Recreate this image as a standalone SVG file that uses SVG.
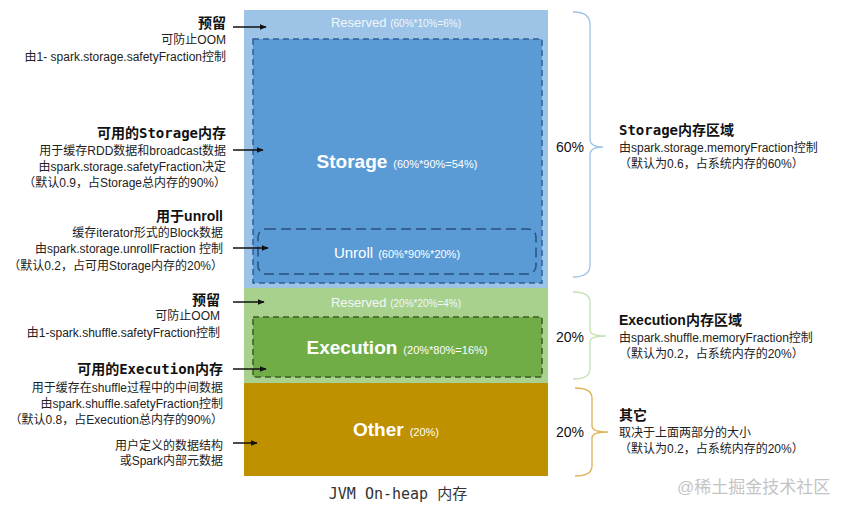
<svg xmlns="http://www.w3.org/2000/svg" width="851" height="512" viewBox="0 0 851 512">
<defs>
<marker id="ah" viewBox="0 0 10 10" refX="9" refY="5" markerWidth="7" markerHeight="7" markerUnits="userSpaceOnUse" orient="auto">
<path d="M0,1 L10,5 L0,9 z" fill="#111"/>
</marker>
</defs>
<style>
text{font-family:"Liberation Sans","Noto Sans CJK SC",sans-serif;fill:#222;}
.l{font-size:12px;text-anchor:end;}
.r{font-size:12px;}
.h{font-family:"DejaVu Sans Mono","Noto Sans CJK SC",monospace;font-weight:bold;font-size:14px;fill:#111;}
.hp{font-family:"Liberation Sans","Noto Sans CJK SC",sans-serif;}
.he{text-anchor:end;}
.c{text-anchor:middle;fill:#fff;}
.sm{font-size:11px;}
.xs{font-size:10px;}
.big{font-weight:bold;font-size:19px;}
.res{font-size:13px;fill:#f2f7fc;}
.pct{font-size:14px;text-anchor:middle;fill:#111;}
.arr{stroke:#111;stroke-width:1.5;fill:none;marker-end:url(#ah);}
.br{fill:none;stroke-width:1.3;}
</style>
<g id="heap">
<rect x="244" y="10" width="304" height="278" fill="#9DC3E6"/>
<rect x="244" y="288" width="304" height="95" fill="#A9D18E"/>
<rect x="244" y="383" width="304" height="93" fill="#BF9000"/>
</g>
<g id="reserved-storage">
<text class="c res" x="396" y="27">Reserved <tspan class="xs">(60%*10%=6%)</tspan></text>
</g>
<g id="storage">
<rect x="253" y="39" width="289" height="244" fill="#5B9BD5" stroke="#2F5F9A" stroke-width="1.5" stroke-dasharray="6,4"/>
<text class="c" x="397" y="168"><tspan class="big" font-size="20">Storage</tspan><tspan class="sm" dx="6">(60%*90%=54%)</tspan></text>
</g>
<g id="unroll">
<rect x="258" y="229" width="278" height="45" rx="8" fill="none" stroke="#2A4F80" stroke-width="1.5" stroke-dasharray="10,5"/>
<text class="c" x="397" y="258"><tspan font-size="15">Unroll</tspan><tspan class="sm" dx="5">(60%*90%*20%)</tspan></text>
</g>
<g id="reserved-execution">
<text class="c res" x="396" y="307">Reserved <tspan class="xs">(20%*20%=4%)</tspan></text>
</g>
<g id="execution">
<rect x="253" y="317" width="289" height="60" fill="#70AD47" stroke="#3A5A25" stroke-width="1.5" stroke-dasharray="6,4"/>
<text class="c" x="397" y="354"><tspan class="big">Execution</tspan><tspan class="sm" dx="6">(20%*80%=16%)</tspan></text>
</g>
<g id="other">
<text class="c" x="396" y="436"><tspan class="big" font-size="20">Other</tspan><tspan class="sm" dx="6">(20%)</tspan></text>
</g>
<g id="caption">
<text x="398" y="499" text-anchor="middle" style="font-family:'DejaVu Sans Mono','Noto Sans CJK SC',monospace;font-size:15px;fill:#333">JVM On-heap 内存</text>
</g>
<g id="note-reserved-storage">
<text class="h he" x="226" y="28">预留</text>
<text class="l" x="226" y="44">可防止OOM</text>
<text class="l" x="226" y="61">由1- spark.storage.safetyFraction控制</text>
</g>
<g id="note-storage">
<text class="h he" x="226" y="138">可用的Storage内存</text>
<text class="l" x="226" y="155">用于缓存RDD数据和broadcast数据</text>
<text class="l" x="226" y="171">由spark.storage.safetyFraction决定</text>
<text class="l" x="226" y="187">（默认0.9，占Storage总内存的90%）</text>
</g>
<g id="note-unroll">
<text class="h hp he" x="223" y="221">用于unroll</text>
<text class="l" x="223" y="237">缓存iterator形式的Block数据</text>
<text class="l" x="223" y="253">由spark.storage.unrollFraction 控制</text>
<text class="l" x="223" y="270">（默认0.2，占可用Storage内存的20%）</text>
</g>
<g id="note-reserved-execution">
<text class="h he" x="220" y="305">预留</text>
<text class="l" x="220" y="320">可防止OOM</text>
<text class="l" x="220" y="337">由1-spark.shuffle.safetyFraction控制</text>
</g>
<g id="note-execution">
<text class="h he" x="223" y="374">可用的Execution内存</text>
<text class="l" x="223" y="392">用于缓存在shuffle过程中的中间数据</text>
<text class="l" x="223" y="408">由spark.shuffle.safetyFraction控制</text>
<text class="l" x="223" y="424">（默认0.8，占Execution总内存的90%）</text>
</g>
<g id="note-other">
<text class="l" x="223" y="450">用户定义的数据结构</text>
<text class="l" x="223" y="465">或Spark内部元数据</text>
</g>
<g id="connectors">
<line class="arr" x1="233" y1="27" x2="266" y2="27"/>
<line class="arr" x1="233" y1="150" x2="263" y2="150"/>
<line class="arr" x1="233" y1="248" x2="268" y2="248"/>
<line class="arr" x1="233" y1="302" x2="264" y2="302"/>
<line class="arr" x1="233" y1="369" x2="266" y2="369"/>
<line class="arr" x1="233" y1="443" x2="257" y2="443"/>
</g>
<g id="braces">
<path class="br" stroke="#9DC3E6" d="M573,12 Q590,12 590,24 L590,139 Q590,147 603,147 Q590,147 590,155 L590,265 Q590,277 573,277"/>
<path class="br" stroke="#C5E0B4" d="M573,292 Q590,292 590,302 L590,330 Q590,336 606,336 Q590,336 590,342 L590,369 Q590,379 573,379"/>
<path class="br" stroke="#E0B050" d="M575,388 Q592,388 592,398 L592,426 Q592,432 608,432 Q592,432 592,438 L592,466 Q592,476 575,476"/>
</g>
<g id="summary-storage">
<text class="pct" x="570" y="152">60%</text>
<text class="h" x="619" y="135">Storage内存区域</text>
<text class="r" x="619" y="152">由spark.storage.memoryFraction控制</text>
<text class="r" x="619" y="168">（默认为0.6，占系统内存的60%）</text>
</g>
<g id="summary-execution">
<text class="pct" x="570" y="342">20%</text>
<text class="h hp" x="619" y="325">Execution内存区域</text>
<text class="r" x="619" y="342">由spark.shuffle.memoryFraction控制</text>
<text class="r" x="619" y="358">（默认为0.2，占系统内存的20%）</text>
</g>
<g id="summary-other">
<text class="pct" x="570" y="437">20%</text>
<text class="h hp" x="619" y="420">其它</text>
<text class="r" x="619" y="437">取决于上面两部分的大小</text>
<text class="r" x="619" y="453">（默认为0.2，占系统内存的20%）</text>
</g>
<text x="677" y="493" font-size="17" style="fill:#c4c4c4">@稀土掘金技术社区</text>
</svg>
